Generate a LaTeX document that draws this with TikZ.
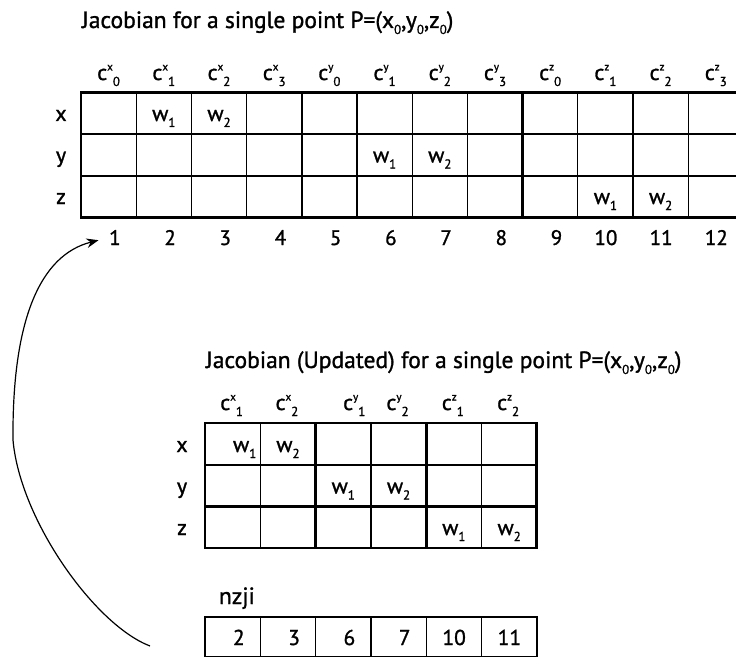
\documentclass[tikz,border=0pt]{standalone}
\usepackage{fontspec}
\setmainfont{PT Sans}[UprightFeatures={FakeBold=1.2}]
\usetikzlibrary{arrows.meta}
\newcommand\lowr[1]{\raisebox{-6pt}{\fontsize{13}{13}\selectfont #1}}
\newcommand\upr[1]{\raisebox{9.5pt}{\fontsize{11}{11}\selectfont #1}}
\newcommand\hdr[2]{c\upr{#1}\lowr{#2}}
\newcommand\wsub[1]{w\lowr{#1}}
\begin{document}
\begin{tikzpicture}[x=1pt,y=-1pt,
  thinline/.style={line width=1.2pt},
  rowline/.style={line width=2.4pt},
  grpline/.style={line width=2.6pt},
  border/.style={line width=2.8pt},
  boxline/.style={line width=1.8pt},
  lbl/.style={inner sep=0pt,outer sep=0pt,font=\fontsize{22}{22}\selectfont},
  title/.style={inner sep=0pt,outer sep=0pt,font=\fontsize{23.5}{23.5}\selectfont},
  num/.style={inner sep=0pt,outer sep=0pt,font=\fontsize{21}{21}\selectfont},
  bignum/.style={inner sep=0pt,outer sep=0pt,font=\fontsize{21.5}{21.5}\selectfont},
  curvearrow/.style={line width=1.2pt,-{Stealth[length=12pt,width=9.5pt]}}]
\clip (0,0) rectangle (736,658);
\fill[white] (0,0) rectangle (736,658);

% ---------- top table ----------
\node[title,anchor=base west] (t1) at (82,28) {Jacobian for a single point P=(x\lowr{0},y\lowr{0},z\lowr{0})};
\foreach \i in {1,2,3,5,6,7,9,10,11}
  \draw[thinline] ({81+\i*55.2},92.5) -- ({81+\i*55.2},217.5);
\foreach \i in {4,8}
  \draw[grpline] ({81+\i*55.2},92.5) -- ({81+\i*55.2},217.5);
\foreach \y in {134.2,175.8}
  \draw[rowline] (81,\y) -- (743.4,\y);
\draw[border] (81,92.5) rectangle (743.4,217.5);

\foreach \s/\n [count=\i from 0] in {x/0,x/1,x/2,x/3,y/0,y/1,y/2,y/3,z/0,z/1,z/2,z/3}
  \node[lbl,anchor=base] (h\i) at ({81+(\i+0.5)*55.2},80) {\hdr{\s}{\n}};

\node[lbl,anchor=base] (rx) at (61,121) {x};
\node[lbl,anchor=base] (ry) at (61,162.5) {y};
\node[lbl,anchor=base] (rz) at (61,204) {z};

\node[lbl,anchor=base] (a12) at ({81+1.5*55.2},121) {\wsub{1}};
\node[lbl,anchor=base] (a13) at ({81+2.5*55.2},121) {\wsub{2}};
\node[lbl,anchor=base] (a26) at ({81+5.5*55.2},162.5) {\wsub{1}};
\node[lbl,anchor=base] (a27) at ({81+6.5*55.2},162.5) {\wsub{2}};
\node[lbl,anchor=base] (a310) at ({81+9.5*55.2},204) {\wsub{1}};
\node[lbl,anchor=base] (a311) at ({81+10.5*55.2},204) {\wsub{2}};

\foreach \i in {1,...,12}
  \node[num,anchor=base east] (n\i) at ({81+(\i-0.5)*55.2+12},245) {\i};

% ---------- updated table ----------
\node[title,anchor=base west] (t2) at (206,368) {Jacobian (Updated) for a single point P=(x\lowr{0},y\lowr{0},z\lowr{0})};
\foreach \i in {1,3,5}
  \draw[thinline] ({205+\i*55.3},423) -- ({205+\i*55.3},548);
\foreach \i in {2,4}
  \draw[grpline] ({205+\i*55.3},423) -- ({205+\i*55.3},548);
\foreach \y in {464.7,506.3}
  \draw[rowline] (205,\y) -- (536.8,\y);
\draw[border] (205,423) rectangle (536.8,548);

\node[lbl,anchor=base] (g1) at ({205+0.5*55.3-1},410) {\hdr{x}{1}};
\node[lbl,anchor=base] (g2) at ({205+1.5*55.3-1},410) {\hdr{x}{2}};
\node[lbl,anchor=base] (g3) at ({205+2.5*55.3+11},410) {\hdr{y}{1}};
\node[lbl,anchor=base] (g4) at ({205+3.5*55.3-1},410) {\hdr{y}{2}};
\node[lbl,anchor=base] (g5) at ({205+4.5*55.3-1},410) {\hdr{z}{1}};
\node[lbl,anchor=base] (g6) at ({205+5.5*55.3-1},410) {\hdr{z}{2}};

\node[lbl,anchor=base] (sx) at (182,452) {x};
\node[lbl,anchor=base] (sy) at (182,493.5) {y};
\node[lbl,anchor=base] (sz) at (182,535) {z};

\node[lbl,anchor=base] (b11) at ({205+0.5*55.3+12},452) {\wsub{1}};
\node[lbl,anchor=base] (b12) at ({205+1.5*55.3},452) {\wsub{2}};
\node[lbl,anchor=base] (b23) at ({205+2.5*55.3},493.5) {\wsub{1}};
\node[lbl,anchor=base] (b24) at ({205+3.5*55.3},493.5) {\wsub{2}};
\node[lbl,anchor=base] (b35) at ({205+4.5*55.3},535) {\wsub{1}};
\node[lbl,anchor=base] (b36) at ({205+5.5*55.3},535) {\wsub{2}};

% ---------- nzji ----------
\node[title,anchor=base west] (nz) at (219,604) {nzji};
\foreach \i in {1,...,5}
  \draw[thinline] ({205+\i*55.3},617) -- ({205+\i*55.3},656.5);
\draw[boxline] (205,617) rectangle (536.8,656.5);
\foreach \v [count=\i from 0] in {2,3,6,7,10,11}
  \node[bignum,anchor=base east] (z\i) at ({205+(\i+0.5)*55.3+12},645) {\v};

% ---------- arrow ----------
\coordinate (arrstart) at (150,646);
\draw[curvearrow,shorten >=11pt] (arrstart) .. controls (95,625) and (20,520) .. (13,440)
  .. controls (12,320) and (40,255) .. (n1.west);
\end{tikzpicture}
\end{document}
